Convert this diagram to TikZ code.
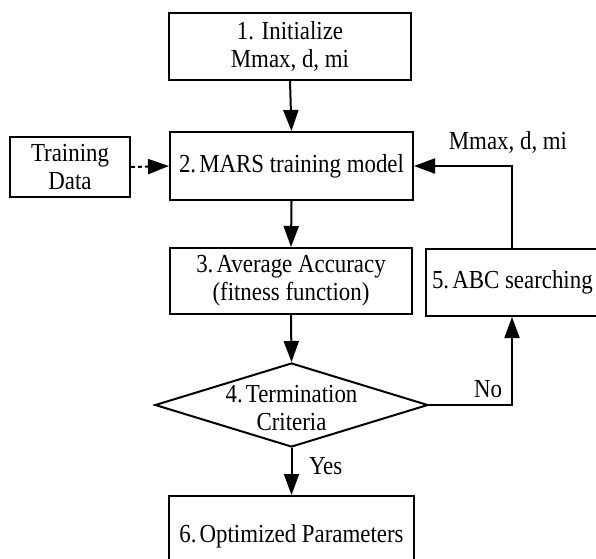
\documentclass[tikz,border=0pt]{standalone}
\usepackage{fontspec}
\setmainfont[FakeStretch=0.88]{Liberation Serif}
\usetikzlibrary{arrows.meta,shapes.geometric}
% narrow gap after a step number
\newcommand{\stepgap}{\hspace{0.12em}}
\begin{document}
\begin{tikzpicture}[x=1pt,y=-1pt,
  line width=2pt,
  every node/.style={font=\fontsize{26}{28}\selectfont},
  box/.style={draw,rectangle,inner sep=0pt,align=center},
  arr/.style={-{Triangle[length=21pt,width=15pt]}},
  lbl/.style={inner sep=0pt}]
\useasboundingbox (0,0) rectangle (596,558);
\clip (0,0) rectangle (596,558);
% process boxes
\node[box,minimum width=242pt,minimum height=67pt] (init) at (290,46.5) {1. Initialize\\Mmax, d, mi};
\node[box,minimum width=243pt,minimum height=68pt] (mars) at (291.5,166) {2.\stepgap MARS training model};
\node[box,minimum width=120pt,minimum height=60pt] (data) at (70,167) {Training\\Data};
\node[box,minimum width=242pt,minimum height=66pt] (acc) at (291,281) {3.\stepgap Average Accuracy\\(fitness function)};
\node[box,minimum width=190pt,minimum height=67pt] (abc) at (521,282.5) {};
\node[lbl,anchor=west] (abctxt) at (431,282.5) {5.\stepgap ABC searching};
% decision
\node[draw,diamond,aspect=3.25,inner sep=0pt,minimum width=273pt,minimum height=84pt] (term) at (291.5,405) {};
\node[lbl,align=center] (termtxt) at (291.5,408) {4.\stepgap Termination\\Criteria};
\node[box,minimum width=245pt,minimum height=80pt] (opt) at (291.5,536) {6.\stepgap Optimized Parameters};
% connectors
\draw[arr] (init.south) -- (mars.north);
\draw[arr,dashed,dash pattern=on 4pt off 3pt] (data.east) -- (mars.west);
\draw[arr] (mars.south) -- (acc.north);
\draw[arr] (acc.south) -- (term.north);
\coordinate (fbtop) at (512,166);
\draw[arr] (abc.north -| fbtop) -- (fbtop) -- (mars.east);
\node[lbl,anchor=south] (fblbl) at (508,154) {Mmax, d, mi};
\coordinate (nocorner) at (512,405);
\draw[arr] (term.east) -- (nocorner) -- (abc.south -| nocorner);
\node[lbl,anchor=south] (nolbl) at (488,399) {No};
\draw[arr] (term.south) -- (opt.north);
\node[lbl,anchor=west] (yeslbl) at (308,466) {Yes};
\end{tikzpicture}
\end{document}
